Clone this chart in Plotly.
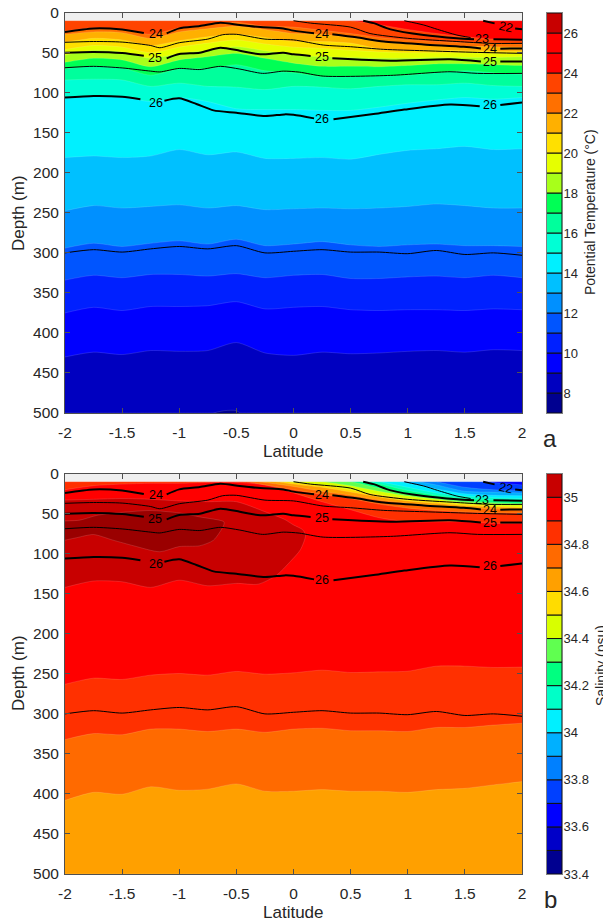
import plotly.graph_objects as go

W, H = 603, 921
lats = [-2, -1.75, -1.5, -1.25, -1, -0.75, -0.5, -0.25, 0, 0.25, 0.5, 0.75, 1, 1.25, 1.5, 1.75, 2]
lat_ticks = [-2, -1.5, -1, -0.5, 0, 0.5, 1, 1.5, 2]
lat_labels = ["-2", "-1.5", "-1", "-0.5", "0", "0.5", "1", "1.5", "2"]
depth_ticks = [0, 50, 100, 150, 200, 250, 300, 350, 400, 450, 500]
no_data_depth = [10] * 17
bottom_depth = [500] * 17

# ---- Temperature: depth of each isotherm (m) at each latitude
temp_bounds = {
    24: [2, 2, 2, 2, 2, 2, 2, 2, 6, 8, 10, 15, 21, 26, 30, 33, 35],
    23: [23, 19, 21, 27, 19, 15, 12, 17, 18, 22, 26, 31, 34, 36, 37.5, 38, 39],
    22: [27, 24, 25, 32, 24, 20, 17, 21, 26, 27, 31, 36, 39, 40, 42, 42.5, 43],
    21: [37, 32, 34, 41, 35, 30, 27, 31, 36, 36, 38, 45, 47, 47, 47.5, 48, 48],
    20: [46, 41, 43, 50, 43, 38, 34, 39, 43, 44.6, 47, 49, 50, 50, 50, 51, 51],
    19: [53, 47, 49, 57, 51, 47, 42.5, 47.5, 53, 55, 56, 57, 57, 56, 56, 56, 55],
    18: [62, 57, 59, 67.5, 59, 55, 51, 57, 63, 67, 67, 67.5, 66, 64, 64, 65, 66],
    17: [70, 67, 69, 78, 70, 70, 65, 72.5, 75, 80, 80, 79, 78, 75, 72.5, 75, 77],
    16: [84, 83, 84, 92, 88, 92, 93, 96, 92, 93, 95, 92, 90, 90, 88, 91, 92],
    15: [106, 104, 105, 111, 106, 111, 120, 121, 121, 122, 122, 118, 113, 109, 106, 108, 106],
    14: [181, 179, 181, 179, 171, 177.5, 174, 182, 182, 181, 183, 177, 172, 170, 167, 171, 170],
    13: [247.5, 241, 244, 242, 240, 244, 241, 246, 245, 244, 245, 244, 242, 239, 241, 244, 244],
    12: [294, 288, 292, 288, 285, 289, 283, 291, 289, 286, 290, 292, 290, 289, 291, 291, 292],
    11: [334, 328, 331, 327, 327, 329, 326, 331, 328, 327, 332, 332, 330, 329, 331, 328, 331],
    10: [375, 368, 372, 367, 367, 366, 361, 370, 368, 367, 371, 372, 371, 371, 372, 370, 371],
    9: [430, 424, 427, 422, 423, 422, 412, 425, 428, 424, 426, 425, 423, 422, 424, 421, 422],
}
temp_levels = [7, 8, 9, 10, 11, 12, 13, 14, 15, 16, 17, 18, 19, 20, 21, 22, 23, 24, 25, 26]
temp_colors = ["#000090", "#0000c0", "#0000ff", "#0020ff", "#0055ff", "#0090ff", "#00c0ff",
               "#00f0ff", "#00ffd5", "#00ff9c", "#00ff55", "#a8ff1a", "#e6ff00", "#ffe000",
               "#ffb000", "#ff7000", "#ff4400", "#ff0000", "#ff0000", "#c80000"]
temp_ticks = [8, 10, 12, 14, 16, 18, 20, 22, 24, 26]
cold_patch_lat = [-0.7, -0.6, -0.5, -0.47]
cold_patch_depth = [500, 497, 497, 500]

# ---- Salinity: depth of each isohaline (m) at each latitude
sal_bounds = {
    33.7: [2, 2, 2, 2, 2, 2, 2, 2, 2, 2, 2, 2, 2, 4, 8, 11, 14],
    33.8: [2, 2, 2, 2, 2, 2, 2, 2, 2, 2, 2, 2, 4, 10, 17, 20, 21],
    33.9: [2, 2, 2, 2, 2, 2, 2, 2, 2, 2, 2, 3, 8, 14, 22, 23, 24],
    34.0: [2, 2, 2, 2, 2, 2, 2, 2, 2, 2, 2, 5, 12, 19, 25, 27, 27.5],
    34.1: [2, 2, 2, 2, 2, 2, 2, 2, 2, 2, 4, 10, 17, 24, 28, 30, 31],
    34.2: [2, 2, 2, 2, 2, 2, 2, 2, 2, 3, 7, 13, 21, 27, 31, 33, 34],
    34.3: [2, 2, 2, 2, 2, 2, 2, 2, 3, 7, 10, 18, 25, 30, 34, 36, 37],
    34.4: [2, 2, 2, 2, 2, 2, 2, 3, 8, 10, 15, 22, 28, 32, 36, 37.5, 38],
    34.5: [2, 2, 2, 2, 2, 2, 2, 5, 11, 14, 20, 26, 31, 35, 38, 40, 41],
    34.6: [2, 2, 2, 2, 2, 2, 4, 8, 13, 17, 23, 29, 34, 37, 40, 41.5, 43],
    34.7: [2, 2, 2, 2, 2, 4, 7, 11, 16, 22, 27, 33, 37, 40, 42.5, 44, 45.5],
    34.8: [2, 2, 2, 2, 4, 6, 8, 14, 20, 26, 31, 38, 43, 46, 48, 49, 49],
    34.9: [20, 15, 13, 12, 12, 11, 11, 14, 24, 35, 45, 55, 60, 60, 60, 62, 62],
}
sal_deep_bounds = {
    34.9: [263, 255.4, 257, 251.6, 249.6, 251.6, 247, 250.4, 248.7, 245.4, 248.3, 247.5, 246.7, 240.4, 240.4, 242, 241.6],
    34.8: [332, 324.6, 326, 319, 319, 322, 319, 323, 319, 318, 321, 321, 322, 317, 317, 314, 311.7],
    34.7: [408, 398, 400.4, 391, 395.4, 394, 387.5, 396.6, 396.6, 394.6, 396.6, 396.6, 398, 394.6, 393, 388.7, 384.6],
}
sal_levels = [33.4, 33.5, 33.6, 33.7, 33.8, 33.9, 34.0, 34.1, 34.2, 34.3, 34.4, 34.5, 34.6, 34.7, 34.8, 34.9, 35.0]
sal_colors = ["#000090", "#0000c8", "#0000ff", "#0040ff", "#0080ff", "#00b0ff", "#00f0ff", "#00ffc8",
              "#00ff80", "#60ff50", "#d8ff00", "#ffdc00", "#ffa000", "#ff6a00", "#ff3000", "#ff0000", "#c80000"]
sal_ticks = [33.4, 33.6, 33.8, 34, 34.2, 34.4, 34.6, 34.8, 35]
sal_tick_labels = ["33.4", "33.6", "33.8", "34", "34.2", "34.4", "34.6", "34.8", "35"]
sal_max_lat = [-2, -1.75, -1.5, -1.25, -1, -0.75, -0.5, -0.25, -0.08, 0, 0.08, 0.105, 0.06, -0.03, -0.15, -0.31, -0.5, -0.75, -1, -1.25, -1.5, -1.75, -2]
sal_max_depth = [33, 32, 31, 32, 34, 35, 35, 47.5, 57, 64, 70, 77, 95, 110, 127, 138, 137, 140, 133, 142, 135, 134, 142]
sal_core_lat = [-2, -1.87, -1.72, -1.55, -1.26, -1, -0.82, -0.61, -0.61, -0.7, -0.82, -1, -1.17, -1.4, -1.58, -1.75, -1.9, -2]
sal_core_depth = [59, 58, 52, 49, 46, 49, 54, 60, 64, 83, 90, 91, 97.5, 90, 83, 76, 80, 83]

# ---- Density contours (sigma-theta), shared by both panels; None marks a label gap
sigma_lines = [
    ("22", 2.0, [1.66, 1.76, None, 1.94, 2], [10, 13.3, None, 19.6, 20.8]),
    ("22.5", 1.0, [0.97, 1.14, 1.26, 1.43, 1.55], [10, 15.4, 20.8, 27.9, 31]),
    ("23", 2.0, [0.61, 0.7, 0.85, 1.14, 1.43, 1.58, None, 1.75, 2],
     [10, 13, 20.8, 27.9, 32, 33.3, None, 33.3, 33.75]),
    ("23.5", 1.0, [0, 0.15, 0.5, 0.67, 1, 1.43, 1.72, 2], [10, 13, 18, 26, 32, 36, 38.3, 38.3]),
    ("24", 2.0, [-2, -1.75, -1.5, -1.31, None, -1.11, -1, -0.82, -0.64, -0.47, -0.29, -0.09, 0, 0.18, None, 0.34, 0.55, 0.79, 1.14, 1.49, 1.64, None, 1.81, 2],
     [24, 19.6, 21, 25.4, None, 25.8, 19.6, 16.7, 12.5, 15.4, 18, 19.6, 22.4, 25.8, None, 27, 30.8, 36, 39.6, 42.5, 44.6, None, 45, 44.6]),
    ("24.5", 1.0, [-2, -1.75, -1.5, -1.25, -1.17, -1, -0.75, -0.62, -0.5, -0.25, 0, 0.26, 0.5, 0.79, 1.14, 1.61, 2],
     [37, 36, 36.7, 41, 43.8, 37.5, 33, 27.5, 27, 33, 34, 40.4, 42.5, 45.8, 47.5, 49.6, 50.8]),
    ("25", 2.0, [-2, -1.75, -1.5, -1.31, None, -1.11, -1, -0.82, -0.64, -0.47, -0.29, -0.09, 0, 0.15, None, 0.34, 0.85, 1.37, 1.64, None, 1.81, 2],
     [50, 49, 50.4, 53.8, None, 57, 51.7, 50, 43.8, 47.5, 52, 50, 52, 54, None, 57, 60, 58.3, 61, None, 61, 61]),
    ("25.5", 1.0, [-2, -1.75, -1.5, -1.25, -1.17, -1, -0.82, -0.64, -0.47, -0.27, -0.09, 0.05, 0.26, 0.85, 1.37, 1.61, 2],
     [68.75, 67, 69, 73, 74, 69.6, 71, 67, 70.4, 75.8, 73, 74.2, 79.2, 78.3, 73.75, 75.8, 75.8]),
    ("26", 2.0, [-2, -1.75, -1.5, -1.34, None, -1.13, -1, -0.85, -0.7, -0.5, -0.25, -0.08, 0, 0.18, None, 0.35, 0.7, 0.97, 1.37, 1.63, None, 1.81, 2],
     [106, 104, 105, 108, None, 110, 107, 114, 122, 125, 129, 127, 127.5, 132, None, 133, 126.5, 121, 114.6, 116.7, None, 115.4, 112]),
    ("26.5", 1.0, lats, [300, 296, 299, 295, 292, 295, 291, 300, 298, 296, 299, 299, 301, 297, 302, 300, 303]),
]
sigma_labels = ["22", "23", "24", "25", "26", "24", "25", "26", "24", "25", "26"]
label_lats = [1.86, 1.65, 1.72, 1.72, 1.72, 0.25, 0.25, 0.25, -1.2, -1.21, -1.2]
label_depths = [17.5, 33, 45, 61, 115.4, 26.7, 55, 133, 27, 57, 113]
label_angles = [12, 0, 0, 0, 0, 0, 0, 0, 0, 0, 0]

# ---- Layout in page pixels
AX_L, AX_R = 65, 522
A_T, A_B = 12.7, 413
B_T, B_B = 473.7, 874
CB_L, CB_R = 546.5, 562
FONT = "Liberation Sans, Arial, sans-serif"
TXT = "#262626"
AXC = "#505050"
EDGE = dict(color="rgba(255,255,255,0.22)", width=0.6, shape="spline", smoothing=0.7)


def fx(p):
    return p / W


def fy(p):
    return 1 - p / H


fig = go.Figure()


def band(xa, ya, y, color, x=lats):
    fig.add_trace(go.Scatter(x=x, y=y, xaxis=xa, yaxis=ya, mode="lines", line=EDGE,
                             fill="tozeroy", fillcolor=color, hoverinfo="skip", showlegend=False))


def patch(xa, ya, x, y, color):
    fig.add_trace(go.Scatter(x=x, y=y, xaxis=xa, yaxis=ya, mode="lines", line=EDGE,
                             fill="toself", fillcolor=color, hoverinfo="skip", showlegend=False))


def contour_lines(xa, ya):
    for name, width, x, y in sigma_lines:
        fig.add_trace(go.Scatter(x=x, y=y, xaxis=xa, yaxis=ya, mode="lines", name=name,
                                 line=dict(color="black", width=width, shape="spline", smoothing=0.7),
                                 hoverinfo="skip", showlegend=False))
    for t, la, d, ang in zip(sigma_labels, label_lats, label_depths, label_angles):
        fig.add_annotation(x=la, y=d, xref=xa, yref=ya, text=t, textangle=ang, showarrow=False,
                           borderpad=0, font=dict(family=FONT, size=12.5, color="black"))


# Panel a: paint from the deepest band upward
temp_color = dict(zip(temp_levels, temp_colors))
band("x", "y", bottom_depth, temp_color[8])
patch("x", "y", cold_patch_lat, cold_patch_depth, temp_color[7])
for lev in sorted(temp_bounds):
    band("x", "y", temp_bounds[lev], temp_color[lev])
band("x", "y", no_data_depth, "#efefef")
contour_lines("x", "y")

# Panel b
sal_color = dict(zip(sal_levels, sal_colors))
band("x2", "y2", bottom_depth, sal_color[34.6])
band("x2", "y2", sal_deep_bounds[34.7], sal_color[34.7])
band("x2", "y2", sal_deep_bounds[34.8], sal_color[34.8])
band("x2", "y2", sal_deep_bounds[34.9], sal_color[34.9])
patch("x2", "y2", sal_max_lat, sal_max_depth, sal_color[35.0])
patch("x2", "y2", sal_core_lat, sal_core_depth, "#9a0000")
for lev in sorted(sal_bounds, reverse=True):
    band("x2", "y2", sal_bounds[lev], sal_color[round(lev - 0.1, 1)])
band("x2", "y2", no_data_depth, "#efefef")
contour_lines("x2", "y2")

# Colour bars drawn as stacked bars on their own axes
fig.add_trace(go.Bar(x=[0] * len(temp_levels), y=[1] * len(temp_levels), base=temp_levels, width=1,
                     marker=dict(color=temp_colors, line=dict(color="#111111", width=1)),
                     xaxis="x3", yaxis="y3", hoverinfo="skip", showlegend=False))
fig.add_trace(go.Bar(x=[0] * len(sal_levels), y=[0.1] * len(sal_levels), base=sal_levels, width=1,
                     marker=dict(color=sal_colors, line=dict(color="#111111", width=1)),
                     xaxis="x4", yaxis="y4", hoverinfo="skip", showlegend=False))

common = dict(showline=True, linecolor=AXC, linewidth=1, mirror="ticks", ticks="inside", ticklen=5,
              tickwidth=1, tickcolor=AXC, showgrid=False, zeroline=False, automargin=False,
              tickfont=dict(family=FONT, size=15.5, color=TXT))


def xa(anchor):
    return dict(common, domain=[fx(AX_L), fx(AX_R)], range=[-2, 2], tickmode="array",
                tickvals=lat_ticks, ticktext=lat_labels, anchor=anchor, ticklabelstandoff=5)


def ya(anchor, top, bot):
    return dict(common, domain=[fy(bot), fy(top)], range=[500, 0], tickmode="array",
                tickvals=depth_ticks, anchor=anchor, ticklabelstandoff=2)


def cbx(anchor):
    return dict(domain=[fx(CB_L), fx(CB_R)], range=[-0.5, 0.5], showticklabels=False, ticks="",
                showgrid=False, zeroline=False, showline=True, linecolor="#808080", linewidth=1,
                mirror=True, anchor=anchor, automargin=False)


def cby(anchor, top, bot, rng, vals, text):
    return dict(domain=[fy(bot), fy(top)], range=rng, side="right", anchor=anchor, tickmode="array",
                tickvals=vals, ticktext=text, ticks="", showgrid=False, zeroline=False,
                showline=True, linecolor="#808080", linewidth=1, mirror=True, automargin=False,
                ticklabelstandoff=-2, tickfont=dict(family=FONT, size=13, color=TXT))


fig.update_layout(
    template="none",
    width=W, height=H, autosize=False, margin=dict(l=0, r=0, t=0, b=0, pad=0),
    paper_bgcolor="white", plot_bgcolor="white", barmode="overlay",
    xaxis=xa("y"), yaxis=ya("x", A_T, A_B),
    xaxis2=xa("y2"), yaxis2=ya("x2", B_T, B_B),
    xaxis3=cbx("y3"), yaxis3=cby("x3", 13, A_B, [7, 27], temp_ticks, [str(t) for t in temp_ticks]),
    xaxis4=cbx("y4"), yaxis4=cby("x4", B_T, B_B, [33.4, 35.1], sal_ticks, sal_tick_labels),
)


def side_text(txt, px, py, size, angle=0, anchor="center"):
    fig.add_annotation(x=fx(px), y=fy(py), xref="paper", yref="paper", text=txt, showarrow=False,
                       textangle=angle, xanchor=anchor, yanchor="middle", borderpad=0,
                       font=dict(family=FONT, size=size, color=TXT))


side_text("Depth (m)", 18, 213, 17, -90)
side_text("Depth (m)", 18, 673, 17, -90)
side_text("Latitude", 293, 451, 17)
side_text("Latitude", 293, 912, 17)
side_text("Potential Temperature (°C)", 590, 212, 14, -90)
side_text("Salinity (psu)", 601, 666, 14, -90)
side_text("a", 550, 438, 24)
side_text("b", 550, 899, 24)

fig.write_html("out.html", post_script="document.body.style.margin='0';",
               config={"displayModeBar": False})
